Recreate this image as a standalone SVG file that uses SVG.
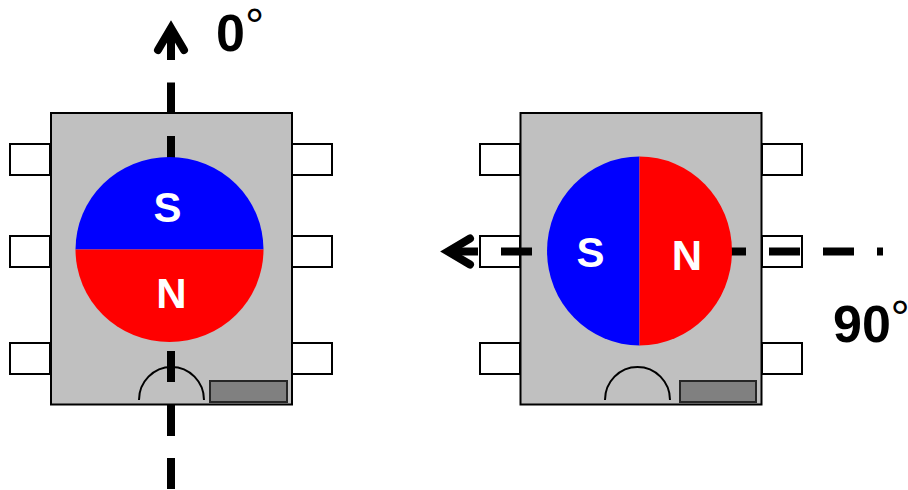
<svg xmlns="http://www.w3.org/2000/svg" width="908" height="490" viewBox="0 0 908 490">
<style>
.body{fill:#c0c0c0;stroke:#000;stroke-width:2}
.pin{fill:#fff;stroke:#000;stroke-width:2}
.slot{fill:#808080;stroke:#262626;stroke-width:2}
.arc{fill:none;stroke:#000;stroke-width:2}
.axis{fill:none;stroke:#000;stroke-width:8}
.head{fill:none;stroke:#000;stroke-width:8;stroke-linecap:round;stroke-miterlimit:10}
.pole{font:bold 42px "Liberation Sans",Arial,sans-serif;fill:#fff;text-anchor:middle}
.angle{font:bold 52px "Liberation Sans",Arial,sans-serif;fill:#000}
.deg{font:48px "Liberation Sans",Arial,sans-serif;fill:#000}
</style>
<g id="chip-left">
<rect class="pin" x="10" y="144" width="40" height="31"/>
<rect class="pin" x="10" y="236" width="40" height="31"/>
<rect class="pin" x="10" y="343" width="40" height="31"/>
<rect class="pin" x="292" y="144" width="40" height="31"/>
<rect class="pin" x="292" y="236" width="40" height="31"/>
<rect class="pin" x="292" y="343" width="40" height="31"/>
<rect class="body" x="51" y="113" width="241" height="291.500"/>
<path class="arc" d="M139 400A32.500 33 0 0 1 204 400"/>
<rect class="slot" x="210" y="381" width="77" height="21"/>
</g>
<g id="chip-right">
<rect class="pin" x="480" y="144" width="40" height="31"/>
<rect class="pin" x="480" y="236" width="40" height="31"/>
<rect class="pin" x="480" y="343" width="40" height="31"/>
<rect class="pin" x="762" y="144" width="40" height="31"/>
<rect class="pin" x="762" y="236" width="40" height="31"/>
<rect class="pin" x="762" y="343" width="40" height="31"/>
<rect class="body" x="520.500" y="113" width="241" height="291.500"/>
<path class="arc" d="M605 400A32.500 33 0 0 1 670 400"/>
<rect class="slot" x="680" y="381" width="76" height="21"/>
</g>
<g id="connectors">
<path class="axis" d="M171 60V29M171 82.500V113M171 136V167M171 351V382M171 405V436M171 458V489"/>
<path class="head" d="M158 50L171 28L184 50"/>
<path class="axis" d="M478 251.500H450M501 251.500H532M715 251.500H746M769 251.500H800M823 251.500H854M877 251.500H883"/>
<path class="head" d="M470 238.500L448 251.500L470 264.500"/>
</g>
<g id="magnet-left">
<path d="M75.500 249.500A94 92.500 0 0 1 263.500 249.500Z" fill="#00f"/>
<path d="M75.500 249.500A94 92.500 0 0 0 263.500 249.500Z" fill="#f00"/>
<text class="pole" x="167.500" y="221.500">S</text>
<text class="pole" x="171.500" y="307.500">N</text>
</g>
<g id="magnet-right">
<path d="M639.500 156.500A92.500 94.500 0 0 0 639.500 345.500Z" fill="#00f"/>
<path d="M639.500 156.500A92.500 94.500 0 0 1 639.500 345.500Z" fill="#f00"/>
<text class="pole" x="590.500" y="266.500">S</text>
<text class="pole" x="687" y="270">N</text>
</g>
<g id="label-0">
<text class="angle" x="216" y="51">0</text>
<text class="deg" x="245" y="42">°</text>
</g>
<g id="label-90">
<text class="angle" x="833" y="342">90</text>
<text class="deg" x="890.500" y="334">°</text>
</g>
</svg>
